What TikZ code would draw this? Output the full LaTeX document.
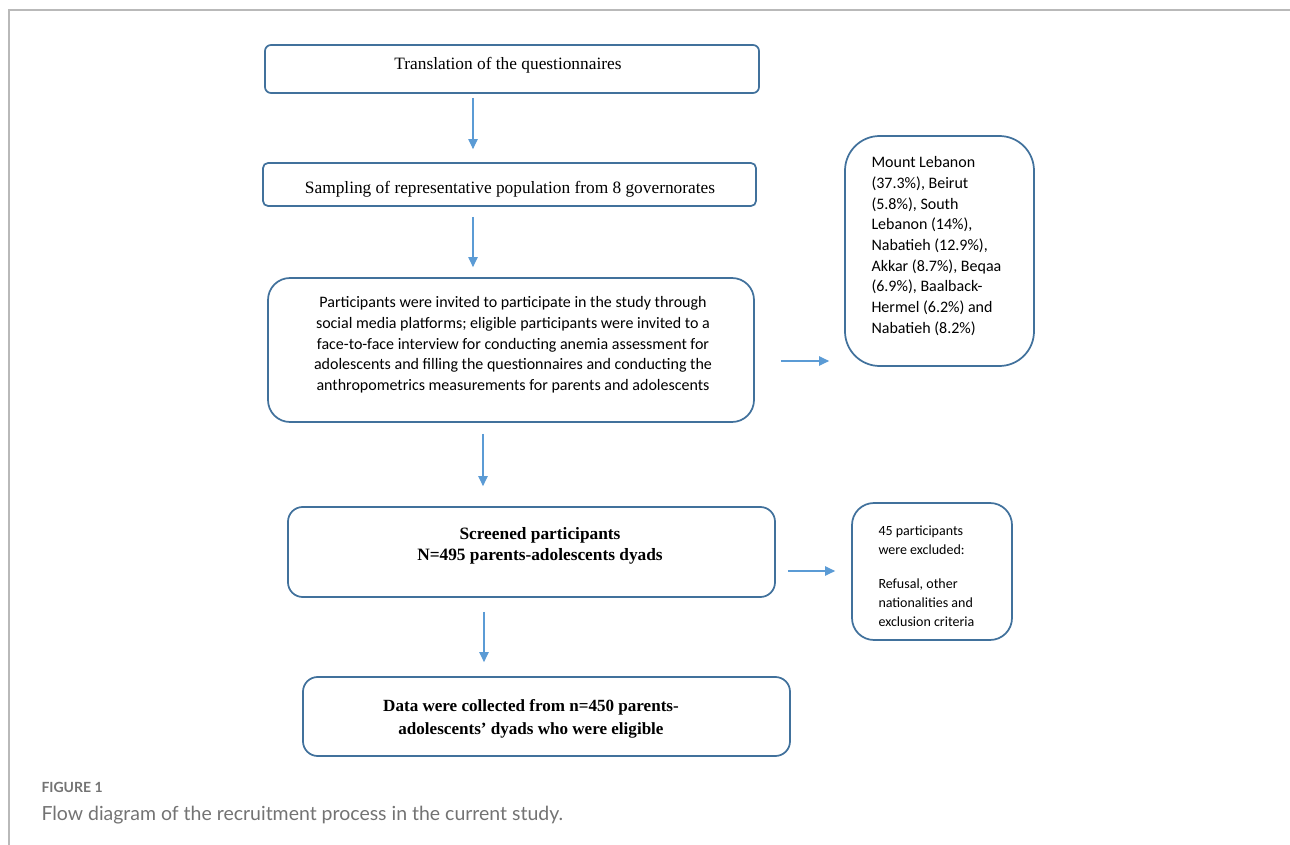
\documentclass[tikz,border=0pt]{standalone}
\usepackage{fontspec}
\setmainfont{Liberation Serif}
\newfontfamily\calibrifont{Carlito}
\newfontfamily\captionfont{Lato}
\usetikzlibrary{arrows.meta}

\definecolor{boxblue}{RGB}{65,113,156}
\definecolor{flowblue}{RGB}{91,155,213}
\definecolor{framegray}{RGB}{185,185,185}
\definecolor{capgray}{RGB}{115,115,115}

\tikzset{every picture/.style={line width=0.75pt}}
\tikzset{
  stagebox/.style={draw=boxblue, line width=1.3pt, inner sep=0pt},
  flow/.style={draw=flowblue, line width=0.8pt, -{Triangle[length=7.5pt,width=7pt]}},
  serifbody/.style={inner sep=0pt, align=center, font=\fontsize{13}{15.75}\selectfont},
  serifbold/.style={inner sep=0pt, align=center, font=\bfseries\fontsize{13}{15.75}\selectfont},
  sansbody/.style={inner sep=0pt, font=\calibrifont\fontsize{12}{15.5}\selectfont}
}

\begin{document}
\begin{tikzpicture}[x=0.75pt,y=0.75pt,yscale=-1,xscale=1]
\useasboundingbox (0,0) rectangle (1290,845);

%Frame lines
\draw [framegray, line width=1.1pt] (9,845) -- (9,10) -- (1290,10) ;

%Rounded Rect: translation
\node [stagebox, rounded corners=4.5pt, minimum width=370.5pt, minimum height=36pt] (trans) at (512,69) {};
%Rounded Rect: sampling
\node [stagebox, rounded corners=3.75pt, minimum width=369.75pt, minimum height=32.25pt] (samp) at (509.5,184.5) {};
%Rounded Rect: recruitment
\node [stagebox, rounded corners=16.5pt, minimum width=364.5pt, minimum height=108pt] (part) at (511,350) {};
%Rounded Rect: governorates
\node [stagebox, rounded corners=26pt, minimum width=141.75pt, minimum height=172.5pt] (govs) at (939.5,251) {};
%Rounded Rect: screened
\node [stagebox, rounded corners=11pt, minimum width=365.25pt, minimum height=67.5pt] (scr) at (531.5,552) {};
%Rounded Rect: excluded
\node [stagebox, rounded corners=16.5pt, minimum width=120pt, minimum height=102.75pt] (excl) at (932,571.5) {};
%Rounded Rect: data collected
\node [stagebox, rounded corners=11pt, minimum width=365.25pt, minimum height=59.25pt] (data) at (546.5,716.5) {};

%Arrow columns and rows
\coordinate (colA) at (473,0);
\coordinate (colB) at (483,0);
\coordinate (colC) at (484,0);
\coordinate (rowA) at (0,361);
\coordinate (rowB) at (0,571);

%Straight Lines
\draw [flow, shorten <=3pt, shorten >=9.75pt] (trans.south -| colA) -- (samp.north -| colA) ;
%Straight Lines
\draw [flow, shorten <=7.5pt, shorten >=7.5pt] (samp.south -| colA) -- (part.north -| colA) ;
%Straight Lines
\draw [flow, shorten <=8.25pt, shorten >=15pt] (part.south -| colB) -- (scr.north -| colB) ;
%Straight Lines
\draw [flow, shorten <=10.5pt, shorten >=10.5pt] (scr.south -| colC) -- (data.north -| colC) ;
%Straight Lines
\draw [flow, shorten <=19.5pt, shorten >=11.25pt] (part.east |- rowA) -- (govs.west |- rowA) ;
%Straight Lines
\draw [flow, shorten <=9pt, shorten >=12pt] (scr.east |- rowB) -- (excl.west |- rowB) ;

% Text Node
\node [serifbody] (transtxt) at (508,65) {Translation of the questionnaires};
% Text Node
\node [serifbody] (samptxt) at (510,189) {Sampling of representative population from 8 governorates};
% Text Node
\node [sansbody, align=center] (parttxt) at (513,345) {Participants were invited to participate in the study through\\social media platforms; eligible participants were invited to a\\face-to-face interview for conducting anemia assessment for\\adolescents and filling the questionnaires and conducting the\\anthropometrics measurements for parents and adolescents};
% Text Node
\node [sansbody, align=left, anchor=west] (govstxt) at (871,246) {Mount Lebanon\\(37.3\%), Beirut\\(5.8\%), South\\Lebanon (14\%),\\Nabatieh (12.9\%),\\Akkar (8.7\%), Beqaa\\(6.9\%), Baalback-\\Hermel (6.2\%) and\\Nabatieh (8.2\%)};
% Text Node
\node [inner sep=0pt, align=left, anchor=west, font=\calibrifont\fontsize{10.5}{14.5}\selectfont] (excltxt) at (878,576.5) {45 participants\\were excluded:\\[10.5pt]Refusal, other\\nationalities and\\exclusion criteria};
% Text Node
\node [serifbold] (scrtxt) at (540,546) {Screened participants\\N=495 parents-adolescents dyads};
% Text Node
\node [serifbold, font=\bfseries\fontsize{12.8}{17.25}\selectfont] (datatxt) at (531,718.5) {Data were collected from n=450 parents-\\adolescents’ dyads who were eligible};

% Caption
\node [inner sep=0pt, anchor=west, text=capgray, font=\captionfont\bfseries\fontsize{10.5}{12}\selectfont] (figlabel) at (41,787) {FIGURE 1};
% Caption
\node [inner sep=0pt, anchor=west, text=capgray, font=\captionfont\fontsize{14.6}{16}\selectfont] (figcaption) at (41,815) {Flow diagram of the recruitment process in the current study.};

\end{tikzpicture}
\end{document}
